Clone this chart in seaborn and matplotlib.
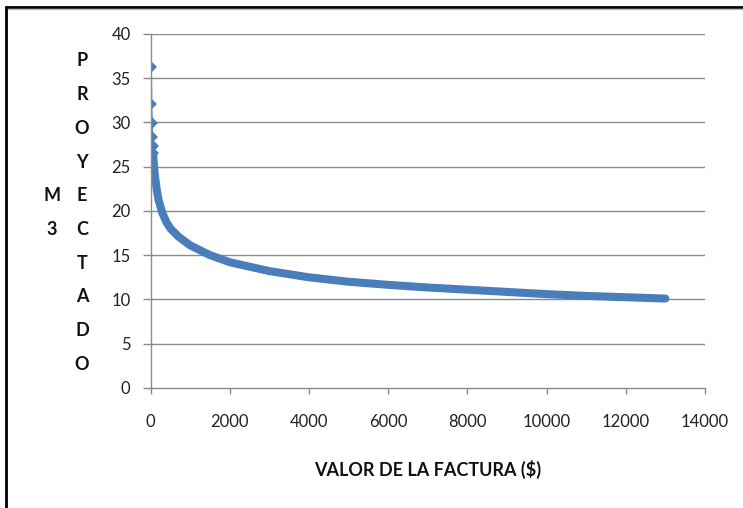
import matplotlib
matplotlib.use("Agg")
import matplotlib.pyplot as plt
from matplotlib.lines import Line2D
import seaborn as sns
import pandas as pd

# ---- data ----
valor_factura = [10, 20, 30, 40, 50, 60, 80, 100, 150, 200, 300, 400, 500, 700,
                 1000, 1500, 2000, 2500, 3000, 4000, 5000, 6000, 7000, 8000,
                 9000, 10000, 11000, 12000, 13000]
m3_proyectado = [36.3, 32.1, 29.9, 28.4, 27.3, 26.5, 25.2, 24.2, 22.5, 21.2,
                 19.7, 18.7, 18.0, 17.1, 16.1, 15.0, 14.2, 13.7, 13.2, 12.5,
                 12.0, 11.65, 11.35, 11.1, 10.85, 10.6, 10.4, 10.25, 10.1]
x_ticks = [0, 2000, 4000, 6000, 8000, 10000, 12000, 14000]
y_ticks = [0, 5, 10, 15, 20, 25, 30, 35, 40]
x_title = "VALOR DE LA FACTURA ($)"
y_title_col1 = "M3"
y_title_col2 = "PROYECTADO"

df = pd.DataFrame({"x": valor_factura, "y": m3_proyectado})

sns.set_theme(style="white")
plt.rcParams["font.family"] = ["Lato", "DejaVu Sans"]

W, H = 743, 508
fig = plt.figure(figsize=(W / 100, H / 100), dpi=100)
fig.patch.set_facecolor("white")

left, right, top, bottom = 150.7, 705.0, 33.8, 388.0
ax = fig.add_axes([left / W, 1 - bottom / H, (right - left) / W, (bottom - top) / H])

blue = "#4a7ebb"
grid = "#8a8a8a"

# dense band (thick line) for the main body of the curve
body = df[df["x"] >= 60]
sns.lineplot(data=body, x="x", y="y", ax=ax, color=blue, linewidth=5.8,
             estimator=None, sort=True, solid_capstyle="round",
             solid_joinstyle="round")
# thin line with diamond markers for the sparse head of the series
head = df[df["x"] <= 60]
sns.lineplot(data=head, x="x", y="y", ax=ax, color=blue, linewidth=1.2,
             estimator=None, sort=True, marker="D", markersize=5.8,
             markeredgewidth=0, markerfacecolor=blue)

ax.set_xlim(0, 14000)
ax.set_ylim(0, 40)
ax.set_xticks(x_ticks)
ax.set_yticks(y_ticks)
ax.set_xticklabels([str(t) for t in x_ticks])
ax.set_yticklabels([str(t) for t in y_ticks])
ax.set_xlabel("")
ax.set_ylabel("")

for yv in y_ticks[1:]:
    ax.axhline(yv, color=grid, linewidth=1.0, zorder=0)

for s in ["top", "right"]:
    ax.spines[s].set_visible(False)
for s in ["left", "bottom"]:
    ax.spines[s].set_color(grid)
    ax.spines[s].set_linewidth(1.0)

ax.tick_params(axis="y", direction="out", length=5.5, width=1.0, color=grid,
               pad=9, labelsize=12, labelcolor="#222222", left=True)
ax.tick_params(axis="x", direction="out", length=4, width=1.0, color=grid,
               pad=15, labelsize=12, labelcolor="#222222", bottom=True)

# stacked y-axis title (two columns)
ys = [61 + i * 33.67 for i in range(len(y_title_col2))]
for ch, yp in zip(y_title_col2, ys):
    fig.text(82 / W, 1 - yp / H, ch, ha="center", va="center",
             fontsize=13, fontweight="bold", color="#111111")
for ch, yp in zip(y_title_col1, ys[4:6]):
    fig.text(52 / W, 1 - yp / H, ch, ha="center", va="center",
             fontsize=13, fontweight="bold", color="#111111")

fig.text(428 / W, 1 - 469 / H, x_title, ha="center", va="center",
         fontsize=13, fontweight="bold", color="#111111")

# outer frame (top and left edges)
fig.add_artist(Line2D([6.5 / W, 1.0], [1 - 6.5 / H, 1 - 6.5 / H],
                      transform=fig.transFigure, color="black", linewidth=2.0))
fig.add_artist(Line2D([6.5 / W, 6.5 / W], [0.0, 1 - 6.5 / H],
                      transform=fig.transFigure, color="black", linewidth=2.0))
fig.add_artist(Line2D([8 / W, 1.0], [1 - 8.5 / H, 1 - 8.5 / H],
                      transform=fig.transFigure, color="#bdbdbd", linewidth=1.0))

fig.savefig("out.png", dpi=100, facecolor="white")
